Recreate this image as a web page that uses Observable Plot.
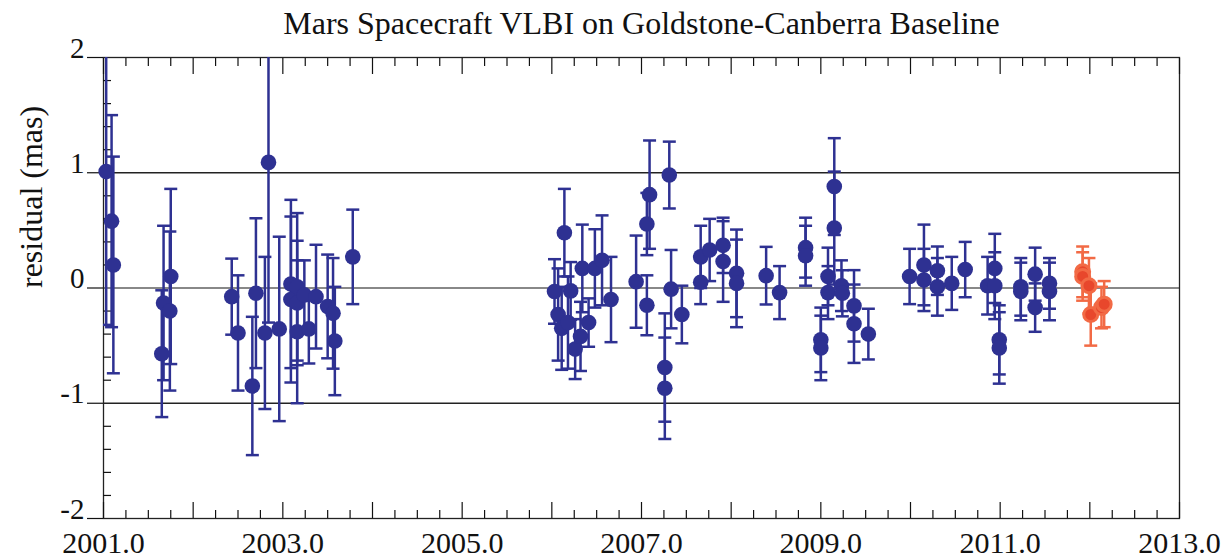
<!DOCTYPE html>
<html><head><meta charset="utf-8">
<script src="https://cdn.jsdelivr.net/npm/d3@7"></script>
<script src="https://cdn.jsdelivr.net/npm/@observablehq/plot@0.6"></script>
<style>
body{margin:0;background:#fff}
#chart svg, #chart svg text{font-family:"Liberation Serif","DejaVu Serif","Times New Roman",serif !important}
</style>
</head><body><div id="chart"></div>
<script>
// ---- data ----
const titleText = "Mars Spacecraft VLBI on Goldstone-Canberra Baseline";
const yLabelText = "residual (mas)";

const blueYear = [2001.03,2001.09,2001.11,2001.65,2001.67,2001.74,2001.75,
  2002.43,2002.50,2002.66,2002.70,2002.80,2002.84,2002.96,
  2003.09,2003.09,2003.16,2003.16,2003.16,2003.24,2003.29,2003.37,2003.50,2003.56,2003.58,2003.78,
  2006.03,2006.07,2006.11,2006.14,2006.18,2006.21,2006.26,2006.32,2006.34,2006.41,2006.48,2006.56,2006.66,
  2006.94,2007.06,2007.06,2007.09,2007.26,2007.26,2007.31,2007.33,2007.45,
  2007.66,2007.66,2007.76,2007.91,2007.91,2008.06,2008.06,2008.39,2008.54,2008.83,2008.83,
  2009.00,2009.00,2009.08,2009.08,2009.15,2009.15,2009.23,2009.24,2009.37,2009.37,2009.53,
  2009.99,2010.15,2010.15,2010.30,2010.30,2010.46,2010.61,2010.86,2010.94,2010.94,2010.99,2010.99,
  2011.23,2011.23,2011.39,2011.39,2011.55,2011.55];
const blueResidual = [1.01,0.58,0.20,-0.57,-0.13,-0.20,0.10,
  -0.075,-0.39,-0.85,-0.045,-0.39,1.09,-0.355,
  0.035,-0.10,0.01,-0.13,-0.38,-0.06,-0.355,-0.075,-0.16,-0.22,-0.46,0.27,
  -0.03,-0.23,-0.35,0.48,-0.30,-0.025,-0.53,-0.42,0.17,-0.30,0.17,0.24,-0.10,
  0.055,-0.15,0.555,0.81,-0.69,-0.87,0.98,-0.01,-0.23,
  0.05,0.27,0.33,0.37,0.23,0.127,0.04,0.107,-0.04,0.35,0.28,
  -0.45,-0.52,0.10,-0.04,0.88,0.52,0.02,-0.046,-0.155,-0.31,-0.40,
  0.10,0.20,0.07,0.15,0.01,0.04,0.16,0.02,0.17,0.02,-0.45,-0.52,
  0.01,-0.03,0.12,-0.17,0.04,-0.03];
const blueError = [1.33,0.92,0.94,0.55,0.67,0.69,0.76,
  0.33,0.50,0.60,0.65,0.66,1.39,0.80,
  0.73,0.72,0.64,0.54,0.62,0.30,0.30,0.45,0.45,0.48,0.47,0.41,
  0.28,0.40,0.36,0.38,0.40,0.25,0.26,0.30,0.38,0.21,0.34,0.39,0.37,
  0.40,0.26,0.27,0.47,0.47,0.44,0.29,0.34,0.25,
  0.19,0.27,0.27,0.24,0.35,0.38,0.38,0.25,0.23,0.26,0.26,
  0.28,0.28,0.25,0.23,0.42,0.49,0.22,0.20,0.31,0.34,0.22,
  0.24,0.35,0.27,0.21,0.25,0.23,0.24,0.25,0.30,0.29,0.30,0.31,
  0.25,0.25,0.23,0.21,0.22,0.25];

const redYear = [2011.92,2011.92,2011.99,2012.01,2012.13,2012.16];
const redResidual = [0.14,0.10,0.02,-0.23,-0.17,-0.14];
const redError = [0.22,0.21,0.24,0.27,0.18,0.20];

const xLabelTicks = [2001,2003,2005,2007,2009,2011,2013];
const xYearTicks = [2001,2002,2003,2004,2005,2006,2007,2008,2009,2010,2011,2012,2013];
const yLabelTicks = [-2,-1,0,1,2];
const gridMajor = [-1,1];
const gridZero = [0];

// ---- derived tables ----
const blue = blueYear.map((x,i)=>({year:x, residual:blueResidual[i], error:blueError[i]}));
const red = redYear.map((x,i)=>({year:x, residual:redResidual[i], error:redError[i]}));
const xQuarterTicks = d3.range(2001, 2013, 0.25).filter(d => !Number.isInteger(d));
const yMinorTicks = d3.range(-9, 10).map(i => i / 5).filter(d => !Number.isInteger(d));

const BLUE = "#2e3192";
const RED_FILL = "#e8472c";
const RED_LINE = "#f26a45";
const FONT = "'Liberation Serif', 'DejaVu Serif', 'Times New Roman', serif";

const capSymbol = { draw(context, size) { const w = Math.sqrt(size / Math.PI); context.moveTo(-w, 0); context.lineTo(w, 0); } };

function errorMarks(data, color) {
  return [
    Plot.ruleX(data, {x: "year", y1: d => d.residual - d.error, y2: d => d.residual + d.error, stroke: color, strokeWidth: 2.5, clip: true}),
    Plot.dot(data, {x: "year", y: d => d.residual + d.error, symbol: capSymbol, r: 6.5, stroke: color, strokeWidth: 2.5, fill: "none", clip: true}),
    Plot.dot(data, {x: "year", y: d => d.residual - d.error, symbol: capSymbol, r: 6.5, stroke: color, strokeWidth: 2.5, fill: "none", clip: true})
  ];
}
const blank = () => "";

const chart = Plot.plot({
  width: 1232, height: 559,
  marginLeft: 103, marginRight: 53, marginTop: 57, marginBottom: 41,
  style: {fontFamily: FONT, fontSize: "29px", color: "#111", background: "white", overflow: "visible"},
  x: {domain: [2001, 2013], label: null},
  y: {domain: [-2, 2], label: null},
  marks: [
    Plot.ruleY(gridZero, {stroke: "#888", strokeWidth: 2}),
    Plot.ruleY(gridMajor, {stroke: "#222", strokeWidth: 1.3}),
    Plot.frame({stroke: "#222", strokeWidth: 1.3}),
    Plot.axisX(xQuarterTicks, {anchor: "bottom", tickSize: -8, tickFormat: blank, strokeWidth: 1.2}),
    Plot.axisX(xYearTicks, {anchor: "bottom", tickSize: -16, tickFormat: blank, strokeWidth: 1.2}),
    Plot.axisX(xQuarterTicks, {anchor: "top", tickSize: -8, tickFormat: blank, strokeWidth: 1.2}),
    Plot.axisX(xYearTicks, {anchor: "top", tickSize: -16, tickFormat: blank, strokeWidth: 1.2}),
    Plot.axisX(xLabelTicks, {anchor: "bottom", tickSize: 0, tickPadding: 13, fontSize: 30, tickFormat: d => d.toFixed(1)}),
    Plot.axisY(yMinorTicks, {anchor: "left", tickSize: -8, tickFormat: blank, strokeWidth: 1.2}),
    Plot.axisY(yLabelTicks, {anchor: "left", tickSize: 16, tickFormat: blank, strokeWidth: 1.2}),
    Plot.axisY(yLabelTicks, {anchor: "left", tickSize: 0, tickPadding: 19, lineAnchor: "bottom", dy: 0, fontSize: 29, tickFormat: d => String(d)}),
    ...errorMarks(blue, BLUE),
    ...errorMarks(red, RED_LINE),
    Plot.dot(blue, {x: "year", y: "residual", r: 7.8, fill: BLUE}),
    Plot.dot(red, {x: "year", y: "residual", r: 7, fill: RED_FILL, stroke: RED_LINE, strokeWidth: 3}),
    Plot.text([titleText], {text: d => d, frameAnchor: "top", lineAnchor: "bottom", dy: -24, fontSize: 32}),
    Plot.text([yLabelText], {text: d => d, frameAnchor: "left", rotate: -90, dx: -72, fontSize: 32})
  ]
});
document.getElementById("chart").appendChild(chart);
</script>
</body></html>
